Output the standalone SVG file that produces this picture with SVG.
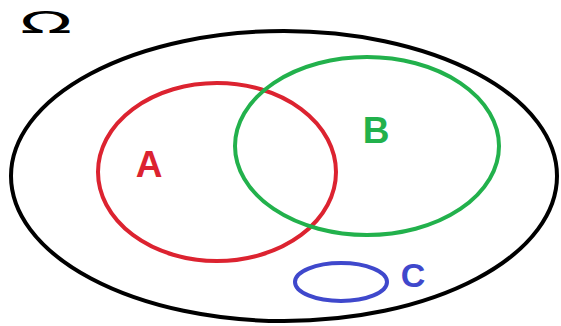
<svg xmlns="http://www.w3.org/2000/svg" width="561" height="326" viewBox="0 0 561 326">
<style>
.set{fill:none;stroke-width:4}
.lbl{font-family:"Liberation Sans",Arial,sans-serif;font-weight:bold;text-anchor:middle}
.om{font-family:"DejaVu Sans",sans-serif;text-anchor:middle}
</style>
<rect width="561" height="326" fill="#ffffff"/>
<g id="omega">
<text class="om" x="0" y="0" font-size="31" fill="#000" transform="translate(46,33) scale(2.2,1)">Ω</text>
</g>
<g id="universe"><ellipse class="set" cx="284" cy="176" rx="273" ry="145" stroke="#000"/></g>
<g id="A">
<ellipse class="set" cx="217" cy="172" rx="119" ry="89" stroke="#dc2330"/>
<text class="lbl" x="149" y="177" font-size="37" fill="#dc2330">A</text>
</g>
<g id="B">
<ellipse class="set" cx="367" cy="146" rx="132" ry="89" stroke="#22b14c"/>
<text class="lbl" x="376" y="143" font-size="37" fill="#22b14c">B</text>
</g>
<g id="C">
<ellipse class="set" cx="341" cy="282" rx="46" ry="19" stroke="#3f48cc"/>
<text class="lbl" x="413" y="287" font-size="34" fill="#3f48cc">C</text>
</g>
<g id="connectors"/>
</svg>
